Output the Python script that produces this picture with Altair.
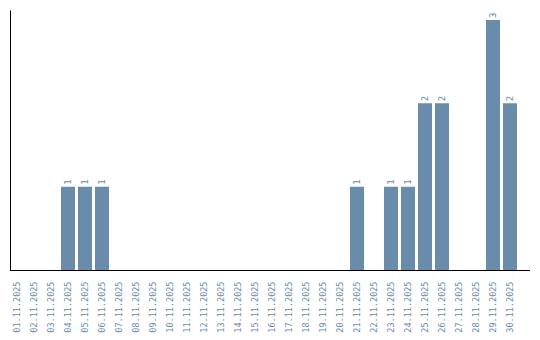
import altair as alt
import pandas as pd

dates = [f"{d:02d}.11.2025" for d in range(1, 31)]
counts = [0, 0, 0, 1, 1, 1, 0, 0, 0, 0,
          0, 0, 0, 0, 0, 0, 0, 0, 0, 0,
          1, 0, 1, 1, 2, 2, 0, 0, 3, 2]

df = pd.DataFrame({"date": dates, "count": counts})
COLOR = "#6a8cab"
FONT = "DejaVu Sans Mono"

x_enc = alt.X("date:N", sort=dates,
              scale=alt.Scale(range=[0, 507], paddingInner=3/17, paddingOuter=0),
              axis=alt.Axis(title=None, labelAngle=270, labelFont=FONT, labelFontSize=8.5,
                            labelColor=COLOR, domain=False, ticks=False, labelPadding=11,
                            labelAlign="right", labelBaseline="middle"))
y_enc = alt.Y("count:Q", scale=alt.Scale(domain=[0, 3.12], nice=False, zero=True),
              axis=alt.Axis(title=None, labels=False, ticks=False, grid=False,
                            domainColor="black", domainWidth=1))

bars = alt.Chart(df).mark_bar(color=COLOR).encode(x=x_enc, y=y_enc)

text = alt.Chart(df).transform_filter(alt.datum["count"] > 0).mark_text(
    angle=270, align="left", baseline="middle", font=FONT, fontSize=9,
    color=COLOR, yOffset=-2
).encode(x=alt.X("date:N", sort=dates), y="count:Q", text="count:Q")

base_line = alt.Chart(df).mark_rule(color="black", strokeWidth=1).encode(
    x=alt.value(0), x2=alt.value(520), y=alt.value(260.5))

chart = alt.layer(bars, text, base_line).properties(
    width=520, height=260,
    autosize=alt.AutoSizeParams(type="none"),
    padding={"left": 10, "top": 10, "right": 10, "bottom": 70}
).configure_view(stroke=None)

chart.save("out.html", embed_options={"renderer": "svg", "actions": False})
